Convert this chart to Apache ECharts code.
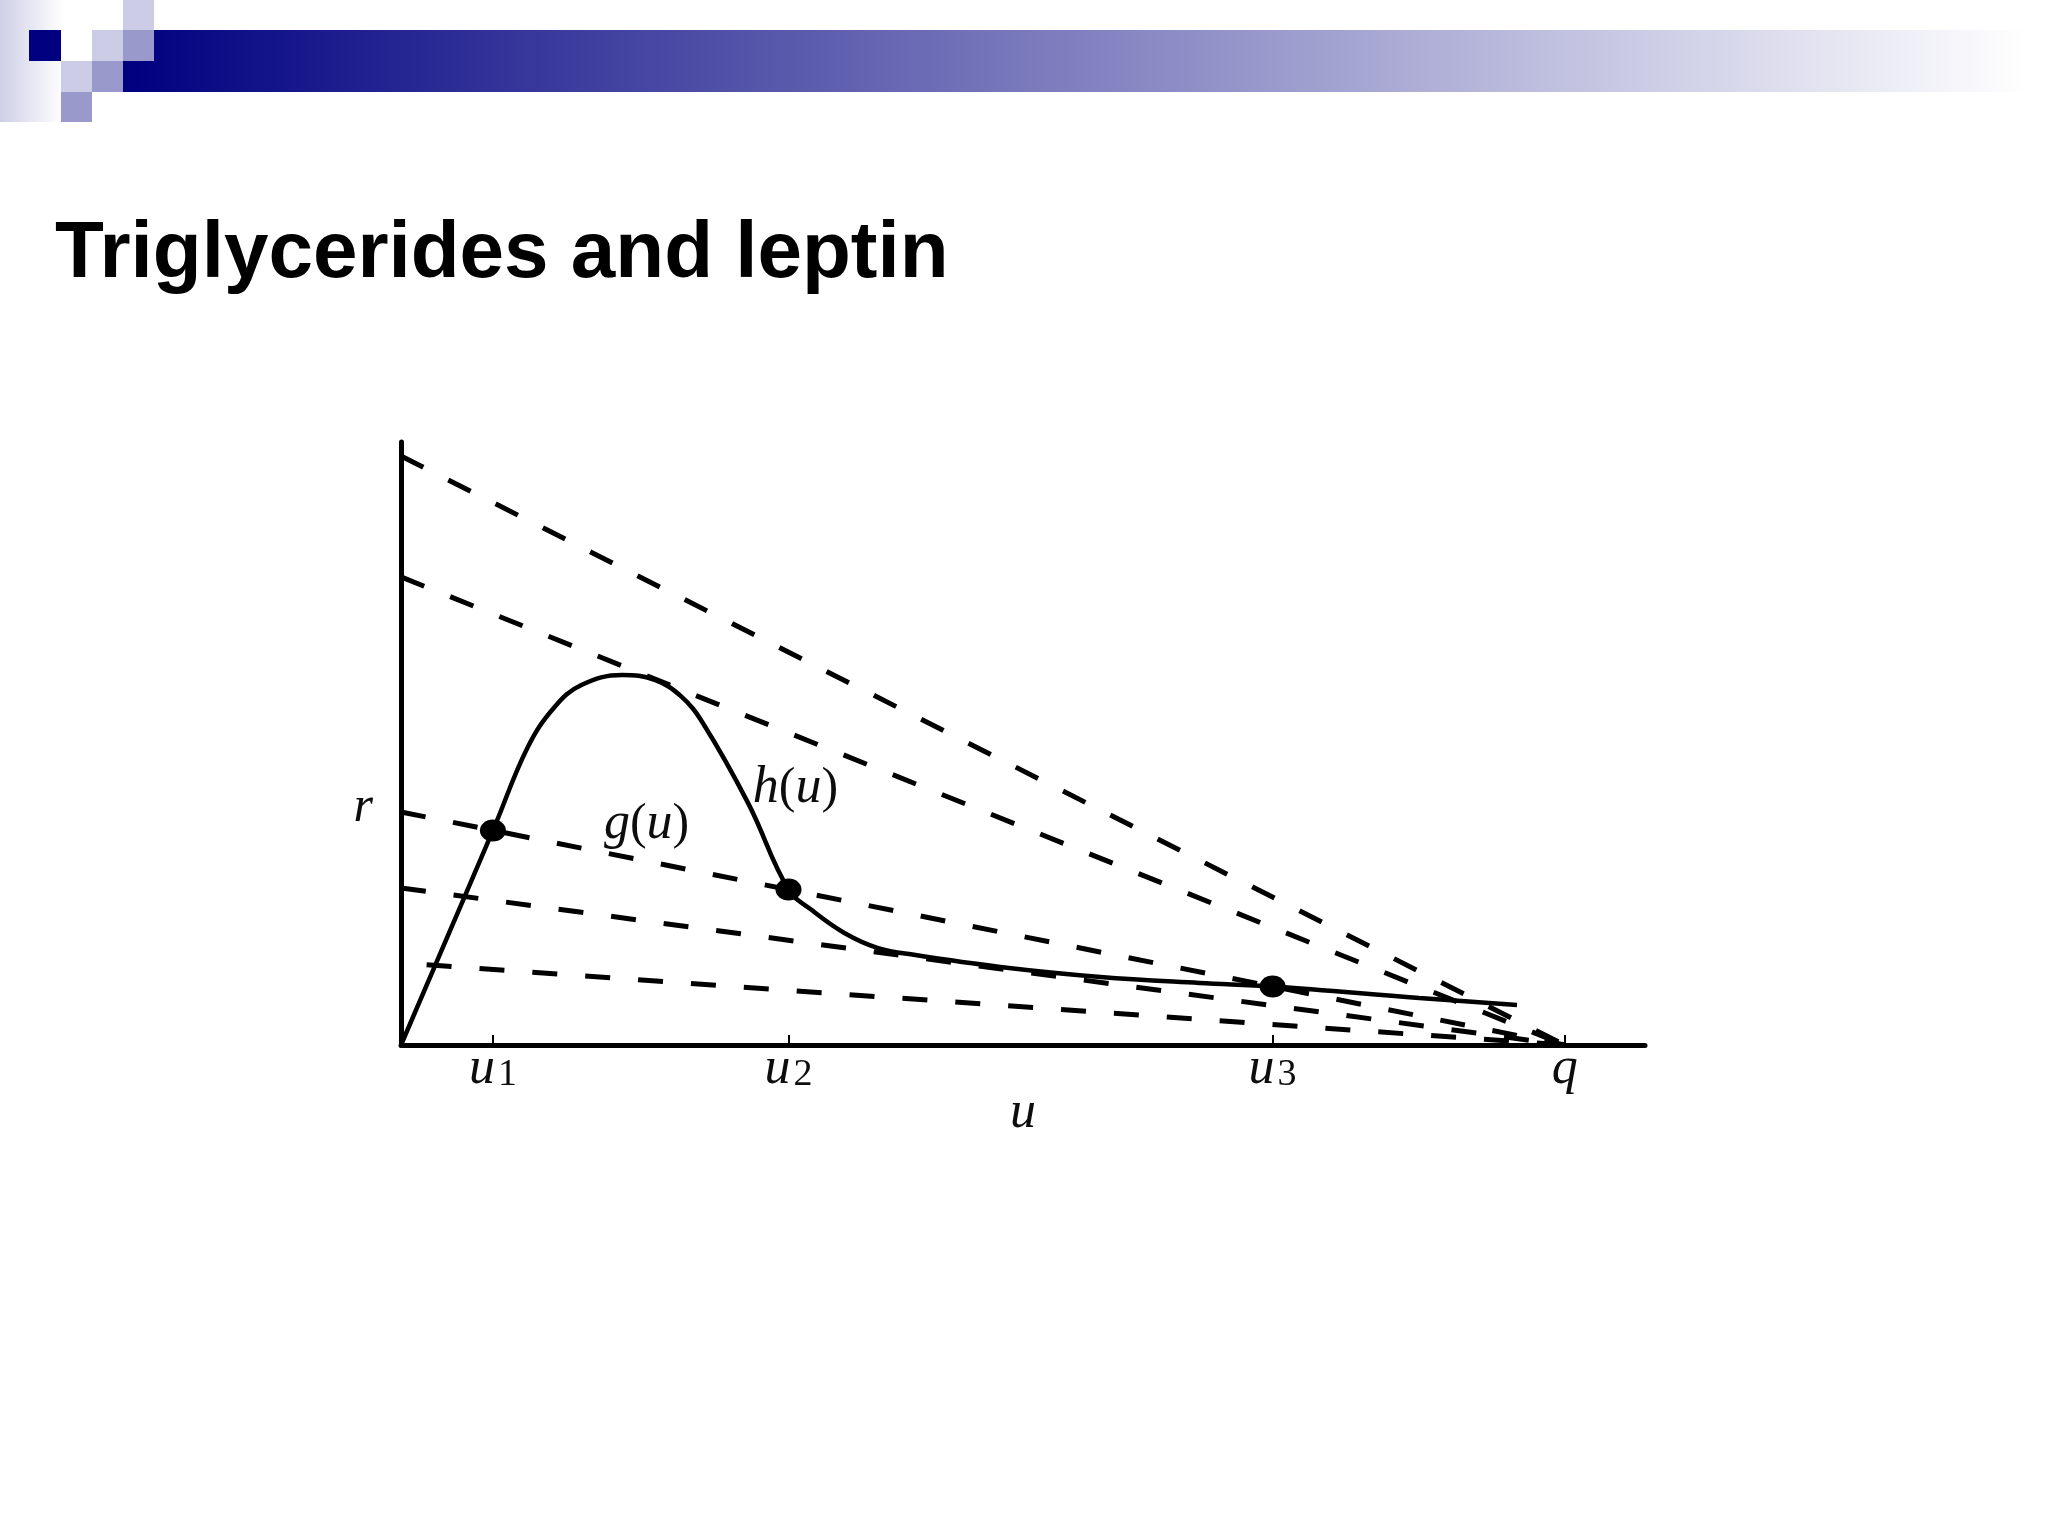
<!DOCTYPE html>
<html>
<head>
<meta charset="utf-8">
<script src="https://cdn.jsdelivr.net/npm/echarts@6/dist/echarts.min.js"></script>
<style>
  html, body { margin: 0; padding: 0; background: #fff; }
  #chart { width: 2048px; height: 1536px; }
</style>
</head>
<body>
<div id="chart"></div>
<script>
// tick marks on the u axis
const tickValues = [0.079, 0.333, 0.749, 1.0];
const tickNames = ['{i|u}{s|1}', '{i|u}{s|2}', '{i|u}{s|3}', '{i|q}'];

// h(u) curve (q = 1, r = 1)
const curveU = [0, 0.079, 0.109, 0.132, 0.155, 0.190, 0.218, 0.241, 0.2595, 0.2984, 0.333, 0.353, 0.381, 0.410, 0.442, 0.515, 0.601, 0.686, 0.749, 0.875, 0.959];
const curveV = [0, 0.921, 1.279, 1.451, 1.545, 1.588, 1.567, 1.495, 1.381, 1.037, 0.667, 0.579, 0.481, 0.416, 0.386, 0.335, 0.292, 0.266, 0.251, 0.202, 0.172];

// dashed lines g(u), all ending at (q, 0)
const dashStartU = [0, 0, 0, 0, 0.022];
const dashStartV = [2.528, 2.009, 1.0, 0.674, 0.344];
const dashEndU = [1, 1, 1, 1, 1];
const dashEndV = [0, 0, 0, 0, 0];

// equilibrium points u1, u2, u3
const crossU = [0.079, 0.333, 0.749];
const crossV = [0.921, 0.667, 0.251];

// curve labels
const noteText = ['{i|h}{n|(}{i|u}{n|)}', '{i|g}{n|(}{i|u}{n|)}'];
const noteU = [0.339, 0.211];
const noteV = [1.100, 0.945];

const serif = 'Liberation Serif';
const ink = '#0d0d0d';
const mathRich = {
    i: { fontFamily: serif, fontStyle: 'italic', fontSize: 52, color: ink },
    n: { fontFamily: serif, fontSize: 50, color: ink },
    s: { fontFamily: serif, fontSize: 38, color: ink, padding: [12, 0, 0, 3] },
    r: { fontFamily: serif, fontStyle: 'italic', fontSize: 50, color: ink, padding: [0, 0, 8, 0] }
};
const tickRich = {
    i: { fontFamily: serif, fontStyle: 'italic', fontSize: 52, lineHeight: 44, color: ink },
    s: { fontFamily: serif, fontSize: 38, lineHeight: 32, color: ink, padding: [12, 0, 0, 3] }
};

let chart = echarts.init(document.getElementById('chart'));

let dashSeries = dashStartU.map(function(u, i) {
    return {
        type: 'line',
        data: [[u, dashStartV[i]], [dashEndU[i], dashEndV[i]]],
        symbol: 'none',
        silent: true,
        z: 2,
        lineStyle: { color: '#000', width: 5, type: [25, 28] }
    };
});

chart.setOption({
    animation: false,
    backgroundColor: '#fff',
    title: {
        text: 'Triglycerides and leptin',
        left: 50,
        top: 210,
        textStyle: { fontFamily: 'Liberation Sans', fontWeight: 'bold', fontSize: 80, color: '#000' }
    },
    graphic: [
        { type: 'rect', z: 0, shape: { x: 0, y: 0, width: 64, height: 122 },
          style: { fill: { type: 'linear', x: 0, y: 0, x2: 1, y2: 0, colorStops: [{ offset: 0, color: '#cfcfe8' }, { offset: 1, color: '#ffffff' }] } } },
        { type: 'rect', z: 1, shape: { x: 123, y: 30, width: 1905, height: 62 },
          style: { fill: { type: 'linear', x: 0, y: 0, x2: 1, y2: 0, colorStops: [{ offset: 0, color: '#000080' }, { offset: 1, color: '#ffffff' }] } } },
        { type: 'rect', z: 2, shape: { x: 29, y: 30, width: 32, height: 31 }, style: { fill: '#000080' } },
        { type: 'rect', z: 2, shape: { x: 123, y: 0, width: 31, height: 30 }, style: { fill: '#ccccE6' } },
        { type: 'rect', z: 2, shape: { x: 92, y: 30, width: 31, height: 31 }, style: { fill: '#ccccE6' } },
        { type: 'rect', z: 2, shape: { x: 123, y: 30, width: 31, height: 31 }, style: { fill: '#9999CC' } },
        { type: 'rect', z: 2, shape: { x: 61, y: 61, width: 31, height: 31 }, style: { fill: '#ccccE6' } },
        { type: 'rect', z: 2, shape: { x: 92, y: 61, width: 31, height: 31 }, style: { fill: '#9999CC' } },
        { type: 'rect', z: 2, shape: { x: 61, y: 92, width: 31, height: 30 }, style: { fill: '#9999CC' } }
    ],
    grid: { left: 401, right: 403, top: 442, bottom: 491 },
    xAxis: {
        type: 'value',
        min: 0,
        max: 1.069,
        name: 'u',
        nameLocation: 'middle',
        nameGap: 42,
        nameMoveOverlap: false,
        nameTextStyle: { fontFamily: serif, fontStyle: 'italic', fontSize: 52, color: ink },
        axisLine: { show: true, lineStyle: { color: '#000', width: 5 } },
        axisTick: { show: true, inside: true, length: 10, customValues: tickValues, lineStyle: { color: '#000', width: 2 } },
        axisLabel: {
            customValues: tickValues,
            margin: 2,
            formatter: function(value) {
                let idx = tickValues.findIndex(v => Math.abs(v - value) < 1e-6);
                return idx >= 0 ? tickNames[idx] : '';
            },
            rich: tickRich
        },
        splitLine: { show: false }
    },
    yAxis: {
        type: 'value',
        min: 0,
        max: 2.588,
        axisLine: { show: true, lineStyle: { color: '#000', width: 5 } },
        axisTick: { show: false },
        axisLabel: {
            customValues: [1],
            margin: 28,
            formatter: function() { return '{r|r}'; },
            rich: mathRich
        },
        splitLine: { show: false }
    },
    series: [
        ...dashSeries,
        {
            type: 'line',
            data: curveU.map((u, i) => [u, curveV[i]]),
            symbol: 'none',
            smooth: 0.4,
            z: 3,
            lineStyle: { color: '#000', width: 4.5 }
        },
        {
            type: 'scatter',
            data: crossU.map((u, i) => [u, crossV[i]]),
            symbol: 'circle',
            symbolSize: [26, 22],
            z: 4,
            itemStyle: { color: '#000', opacity: 1 }
        },
        {
            type: 'scatter',
            data: noteU.map((u, i) => ({ value: [u, noteV[i]], label: { formatter: noteText[i] } })),
            symbolSize: 1,
            z: 5,
            itemStyle: { color: 'rgba(0,0,0,0)', opacity: 1 },
            label: { show: true, position: 'inside', rich: mathRich }
        }
    ]
});
</script>
</body>
</html>
